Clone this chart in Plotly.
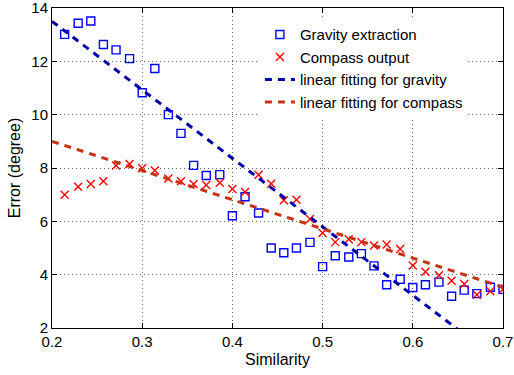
import plotly.graph_objects as go

# Similarity values (x)
similarity = [0.214, 0.229, 0.243, 0.257, 0.271, 0.286, 0.300, 0.314, 0.329, 0.343,
              0.357, 0.371, 0.386, 0.400, 0.414, 0.429, 0.443, 0.457, 0.471, 0.486,
              0.500, 0.514, 0.529, 0.543, 0.557, 0.571, 0.586, 0.600, 0.614, 0.629,
              0.643, 0.657, 0.671, 0.686, 0.700]

gravity_error = [13.01, 13.43, 13.51, 12.63, 12.43, 12.10, 10.82, 11.73, 10.00, 9.30,
                 8.10, 7.72, 7.75, 6.21, 6.92, 6.31, 5.00, 4.82, 5.00, 5.21,
                 4.30, 4.71, 4.66, 4.79, 4.33, 3.62, 3.83, 3.52, 3.62, 3.72,
                 3.19, 3.42, 3.29, 3.53, 3.45]

compass_error = [7.00, 7.30, 7.40, 7.50, 8.09, 8.15, 7.99, 7.91, 7.61, 7.50,
                 7.40, 7.36, 7.45, 7.21, 7.10, 7.75, 7.41, 6.79, 6.81, 6.09,
                 5.56, 5.22, 5.33, 5.22, 5.09, 5.13, 4.96, 4.34, 4.11, 3.98,
                 3.77, 3.65, 3.25, 3.38, 3.45]

# Linear fit endpoints
fit_x = [0.2, 0.7]
gravity_fit = [13.5, 0.66]
compass_fit = [9.0, 3.53]

x_ticks = [0.2, 0.3, 0.4, 0.5, 0.6, 0.7]
x_ticklabels = ["0.2", "0.3", "0.4", "0.5", "0.6", "0.7"]
y_ticks = [2, 4, 6, 8, 10, 12, 14]

FONT = "Liberation Sans, Arial, Helvetica, sans-serif"

fig = go.Figure()
fig.add_trace(go.Scatter(
    x=similarity, y=gravity_error, mode="markers", name="Gravity extraction",
    marker=dict(symbol="square-open", size=8, color="#0000FF", line=dict(width=1.4, color="#0000FF")),
))
fig.add_trace(go.Scatter(
    x=similarity, y=compass_error, mode="markers", name="Compass output",
    marker=dict(symbol="x-thin-open", size=8, color="#FF0000", line=dict(width=1.4, color="#FF0000")),
))
fig.add_trace(go.Scatter(
    x=fit_x, y=gravity_fit, mode="lines", name="linear fitting for gravity",
    line=dict(color="#0000A8", width=3, dash="7px,6px"),
))
fig.add_trace(go.Scatter(
    x=fit_x, y=compass_fit, mode="lines", name="linear fitting for compass",
    line=dict(color="#C83214", width=3, dash="7px,6px"),
))

axis_common = dict(
    showline=True, linecolor="black", linewidth=1, mirror="ticks",
    ticks="inside", ticklen=5, tickcolor="black", tickwidth=1,
    showgrid=True, gridcolor="rgba(60,60,60,0.8)", gridwidth=1, griddash="1px,3px",
    zeroline=False, tickfont=dict(size=15, color="black", family=FONT),
    automargin=False, ticklabeloverflow="allow",
)

fig.update_xaxes(range=[0.2, 0.7], tickvals=x_ticks, ticktext=x_ticklabels,
                 title=dict(text="Similarity", font=dict(size=16, color="black", family=FONT), standoff=4),
                 **axis_common)
fig.update_yaxes(range=[2, 14], tickvals=y_ticks,
                 title=dict(text="Error (degree)", font=dict(size=16, color="black", family=FONT), standoff=6),
                 **axis_common)

fig.update_layout(
    width=514, height=375,
    margin=dict(l=52, r=11, t=8, b=47),
    paper_bgcolor="white", plot_bgcolor="white",
    font=dict(family=FONT, color="black"),
    showlegend=True,
    legend=dict(x=0.461, y=0.968, xanchor="left", yanchor="top",
                bgcolor="white", borderwidth=0,
                font=dict(size=15, color="black", family=FONT),
                tracegroupgap=0),
)

fig.write_html("out.html", config={"displayModeBar": False},
               post_script="document.body.style.margin='0px';document.body.style.overflow='hidden';")
